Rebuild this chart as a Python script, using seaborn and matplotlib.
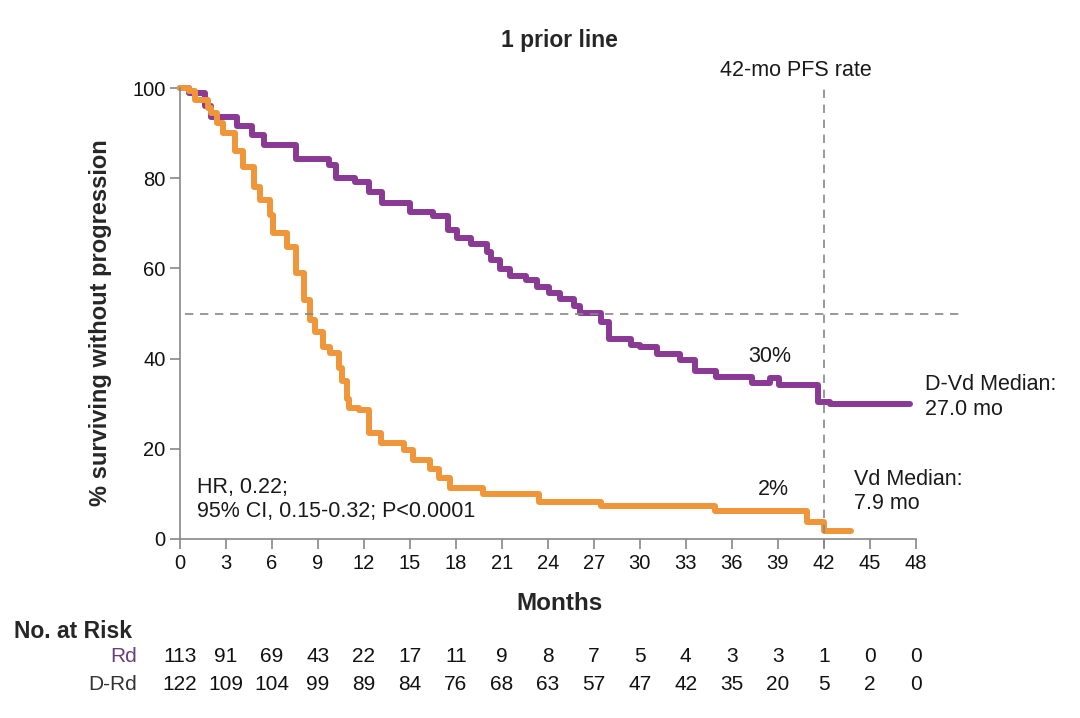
import matplotlib
matplotlib.use("Agg")
import matplotlib.pyplot as plt
import matplotlib.transforms as mtransforms
import numpy as np
import pandas as pd
import seaborn as sns

# step data (month, % progression free)
dvd_months = [0, 0.6, 1.6, 2.0, 3.7, 4.7, 5.5, 7.6, 9.7, 10.2, 11.4, 12.3, 13.2, 15.0, 16.5,
              17.5, 18.1, 19.0, 20.0, 20.3, 20.9, 21.5, 22.6, 23.3, 24.1, 24.8, 25.7, 26.1,
              27.5, 28.0, 29.4, 30.0, 31.1, 32.6, 33.6, 35.0, 37.3, 38.5, 39.1, 41.6, 42.4, 47.6]
dvd_pfs = [100, 99, 96, 93.5, 91.5, 89.5, 87.3, 84.3, 83.0, 80.0, 79.2, 77.0, 74.6, 72.6, 71.6,
           68.5, 66.7, 65.3, 63.6, 61.9, 59.9, 58.3, 57.4, 55.9, 54.5, 53.2, 51.7, 50.1,
           48.1, 44.3, 43.0, 42.6, 41.0, 39.7, 37.3, 35.9, 34.6, 35.7, 34.1, 30.4, 29.9, 29.9]

vd_months = [0, 0.6, 1.0, 1.8, 2.0, 2.4, 2.8, 3.6, 4.1, 4.8, 5.2, 5.9, 6.1, 7.0, 7.6, 8.1,
             8.5, 8.8, 9.3, 9.8, 10.4, 10.6, 10.9, 11.0, 11.7, 12.3, 13.1, 14.6, 15.2, 16.3,
             16.9, 17.6, 19.8, 23.4, 27.5, 34.9, 40.9, 42.0, 43.8]
vd_pfs = [100, 99.3, 97.3, 95.5, 94.4, 92.2, 90.0, 86.0, 82.5, 78.0, 75.2, 71.8, 67.8, 64.7,
          59.0, 53.0, 48.5, 46.0, 42.5, 41.2, 38.0, 35.0, 31.0, 29.0, 28.6, 23.5, 21.3, 19.7,
          17.5, 15.5, 13.5, 11.3, 10.0, 8.2, 7.3, 6.2, 3.8, 1.8, 1.8]

risk_months = list(range(0, 49, 3))
risk_rd = [113, 91, 69, 43, 22, 17, 11, 9, 8, 7, 5, 4, 3, 3, 1, 0, 0]
risk_drd = [122, 109, 104, 99, 89, 84, 76, 68, 63, 57, 47, 42, 35, 20, 5, 2, 0]

purple = "#8a3a95"
orange = "#f0963a"
grey = "#888888"

sns.set_theme(style="ticks")
plt.rcParams["font.family"] = ["Liberation Sans", "DejaVu Sans"]

fig = plt.figure(figsize=(10.8, 7.18), dpi=100)
ax = fig.add_axes([180 / 1080, 179 / 718, 797 / 1080, 451 / 718])

df = pd.concat([
    pd.DataFrame({"month": dvd_months, "pfs": dvd_pfs, "arm": "D-Vd"}),
    pd.DataFrame({"month": vd_months, "pfs": vd_pfs, "arm": "Vd"}),
])
sns.lineplot(data=df, x="month", y="pfs", hue="arm", palette={"D-Vd": purple, "Vd": orange},
             drawstyle="steps-post", linewidth=4.3, legend=False, ax=ax, clip_on=False,
             estimator=None, sort=False)

# reference lines
ax.plot([0.3, 51.1], [50, 50], ls=(0, (5, 4)), color=grey, lw=1.2, clip_on=False)
ax.plot([42, 42], [-2, 100], ls=(0, (5, 4)), color=grey, lw=1.2, clip_on=False)

ax.set_xlim(0, 52)
ax.set_ylim(0, 100)
ax.set_xticks(risk_months)
ax.set_yticks([0, 20, 40, 60, 80, 100])
ax.spines["bottom"].set_bounds(0, 48)
ax.spines["left"].set_bounds(0, 100)
sns.despine(ax=ax)
for s in ("left", "bottom"):
    ax.spines[s].set_color(grey)
    ax.spines[s].set_linewidth(1.2)
ax.tick_params(axis="both", colors=grey, labelcolor="#111111", labelsize=14.5, length=7, width=1.2)
ax.set_xlabel("")
ax.set_ylabel("")

fig.text(0.518, 0.944, "1 prior line", ha="center", va="center", fontsize=16.5, fontweight="bold")
fig.text(0.093, 0.55, "% surviving without progression", rotation=90, ha="center", va="center",
         fontsize=17, fontweight="bold")
fig.text(0.518, 0.160, "Months", ha="center", va="center", fontsize=17.5, fontweight="bold")

txt = dict(fontsize=15.5, color="#1a1a1a")
ax.text(40.2, 100 * (539 - 71) / 451, "42-mo PFS rate", ha="center", va="center", **txt)
ax.text(38.5, 40.4, "30%", ha="center", va="center", **txt)
ax.text(38.7, 11.0, "2%", ha="center", va="center", **txt)
ax.text(48.6, 31.5, "D-Vd Median:\n27.0 mo", ha="left", va="center", linespacing=1.2, **txt)
ax.text(44.0, 10.5, "Vd Median:\n7.9 mo", ha="left", va="center", linespacing=1.2, **txt)
ax.text(1.1, 8.8, "HR, 0.22;\n95% CI, 0.15-0.32; P<0.0001", ha="left", va="center",
        linespacing=1.2, **txt)

# number at risk table
tr = mtransforms.blended_transform_factory(ax.transData, fig.transFigure)
fig.text(0.013, 0.121, "No. at Risk", ha="left", va="center", fontsize=16.5, fontweight="bold")
row_y = [1 - 656 / 718, 1 - 684 / 718]
fig.text(137 / 1080, row_y[0], "Rd", ha="right", va="center", fontsize=15, color="#6a3f7a")
fig.text(137 / 1080, row_y[1], "D-Rd", ha="right", va="center", fontsize=15, color="#333333")
for m, a, b in zip(risk_months, risk_rd, risk_drd):
    ax.text(m, row_y[0], str(a), transform=tr, ha="center", va="center", fontsize=15,
            color="#111111")
    ax.text(m, row_y[1], str(b), transform=tr, ha="center", va="center", fontsize=15,
            color="#111111")

fig.savefig("out.png", dpi=100, facecolor="white")
